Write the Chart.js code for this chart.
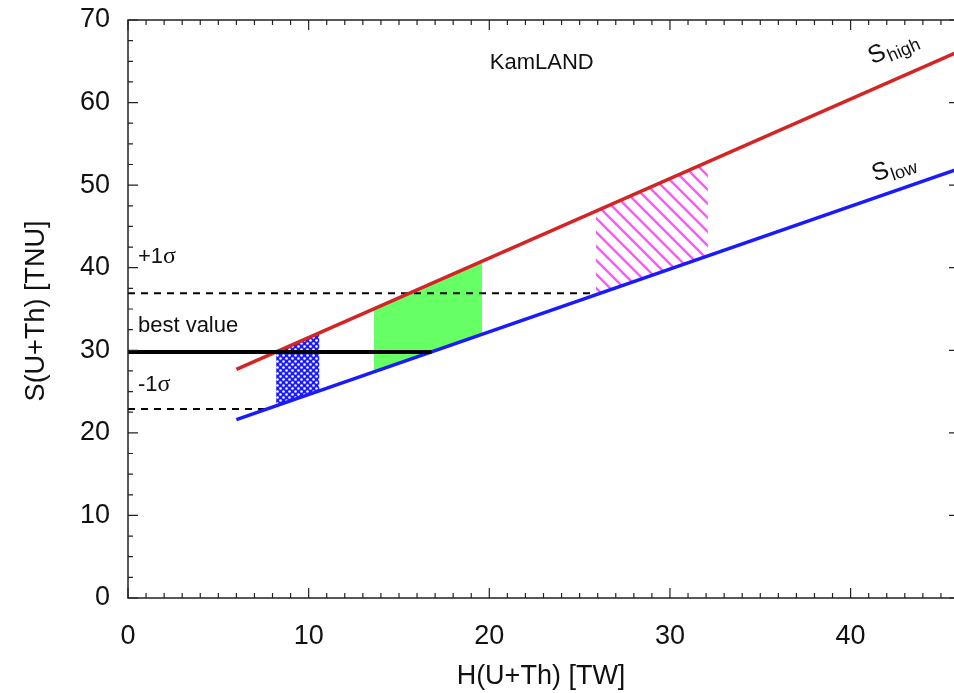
<!DOCTYPE html>
<html>
<head>
<meta charset="utf-8">
<script src="https://cdn.jsdelivr.net/npm/chart.js@4.4.1/dist/chart.umd.min.js"></script>
<style>
  html, body { margin: 0; padding: 0; background: #fff; overflow: hidden; }
  canvas { display: block; }
</style>
</head>
<body>
<canvas id="geoChart" width="959" height="693"></canvas>
<script>
// values
const xTickValues = [0, 10, 20, 30, 40];
const yTickValues = [0, 10, 20, 30, 40, 50, 60, 70];

const sHigh = [[6, 27.7], [46, 66.2]];
const sLow = [[6, 21.6], [46, 52.0]];
const bestValue = [[0, 29.8], [16.8, 29.8]];
const plusSigma = [[0, 36.9], [25.9, 36.9]];
const minusSigma = [[0, 22.9], [7.8, 22.9]];

// shaded regions between the two lines (upper edge, lower edge)
const dotsTop = [[8.2, 29.8], [10.6, 32.1]];
const dotsBottom = [[8.2, 23.3], [10.6, 25.1]];
const greenTop = [[13.6, 35.0], [19.6, 40.8]];
const greenBottom = [[13.6, 27.4], [19.6, 31.9]];
const hatchTop = [[25.9, 46.8], [32.1, 52.8]];
const hatchBottom = [[25.9, 36.7], [32.1, 41.4]];

const RED = '#d42424';
const BLUE = '#1a1aff';

const pts = arr => arr.map(([x, y]) => ({ x: x, y: y }));

function dotPattern() {
    const c = document.createElement('canvas');
    c.width = 6;
    c.height = 6;
    const g = c.getContext('2d');
    g.fillStyle = BLUE;
    g.fillRect(0, 0, 6, 6);
    g.fillStyle = '#fff';
    [[1.5, 1.5], [4.5, 4.5]].forEach(([x, y]) => {
        g.beginPath();
        g.arc(x, y, 1.3, 0, Math.PI * 2);
        g.fill();
    });
    return g.createPattern(c, 'repeat');
}

function hatchPattern() {
    const n = 14;
    const c = document.createElement('canvas');
    c.width = n;
    c.height = n;
    const g = c.getContext('2d');
    g.strokeStyle = '#ff55ff';
    g.lineWidth = 2.4;
    g.beginPath();
    g.moveTo(-2, -2); g.lineTo(n + 2, n + 2);
    g.moveTo(-2, n - 2); g.lineTo(2, n + 2);
    g.moveTo(n - 2, -2); g.lineTo(n + 2, 2);
    g.stroke();
    return g.createPattern(c, 'repeat');
}

function line(data, color, width, dash) {
    return {
        data: pts(data),
        showLine: true,
        borderColor: color,
        borderWidth: width,
        borderDash: dash || [],
        pointRadius: 0,
        fill: false
    };
}

function band(data, fillStyle) {
    return {
        data: pts(data),
        showLine: true,
        borderColor: 'transparent',
        borderWidth: 0,
        pointRadius: 0,
        backgroundColor: fillStyle,
        fill: '+1'
    };
}

// inward ticks on all sides, plus the frame
const framePlugin = {
    id: 'frame',
    afterDraw(chart) {
        const { ctx, chartArea: a, scales: { x, y } } = chart;
        ctx.save();
        ctx.strokeStyle = '#222';
        ctx.lineWidth = 1.5;
        ctx.beginPath();
        ctx.moveTo(a.right, a.top);
        ctx.lineTo(a.left, a.top);
        ctx.lineTo(a.left, a.bottom);
        ctx.lineTo(a.right, a.bottom);
        ctx.lineTo(a.right, a.top);
        ctx.stroke();
        ctx.lineWidth = 1.2;
        ctx.beginPath();
        for (let v = 0; v <= x.max; v += 1) {
            const px = x.getPixelForValue(v);
            const len = v % 10 === 0 ? 10 : 5;
            ctx.moveTo(px, a.bottom); ctx.lineTo(px, a.bottom - len);
            ctx.moveTo(px, a.top); ctx.lineTo(px, a.top + len);
        }
        for (let v = 0; v <= y.max; v += 2.5) {
            const py = y.getPixelForValue(v);
            const len = v % 10 === 0 ? 10 : 5;
            ctx.moveTo(a.left, py); ctx.lineTo(a.left + len, py);
            ctx.moveTo(a.right, py); ctx.lineTo(a.right - len, py);
        }
        ctx.stroke();
        ctx.restore();
    }
};

function sigmaText(ctx, text, x, y) {
    ctx.font = '22px "Liberation Sans"';
    ctx.fillText(text, x, y);
    const w = ctx.measureText(text).width;
    ctx.font = '24px "Liberation Serif"';
    ctx.fillText('\u03c3', x + w, y);
}

function subText(ctx, main, sub, x, y, angle) {
    ctx.save();
    ctx.translate(x, y);
    ctx.rotate(angle);
    ctx.textAlign = 'left';
    ctx.textBaseline = 'alphabetic';
    ctx.font = '25px "Liberation Sans"';
    ctx.fillText(main, 0, 0);
    const w = ctx.measureText(main).width;
    ctx.font = '18px "Liberation Sans"';
    ctx.fillText(sub, w + 1, 5);
    ctx.restore();
}

const textPlugin = {
    id: 'texts',
    afterDraw(chart) {
        const { ctx, scales: { x, y } } = chart;
        ctx.save();
        ctx.fillStyle = '#111';
        ctx.textBaseline = 'middle';

        ctx.textAlign = 'center';
        ctx.font = '22px "Liberation Sans"';
        ctx.fillText('KamLAND', x.getPixelForValue(22.9), y.getPixelForValue(64.8));

        ctx.textAlign = 'left';
        const lx = x.getPixelForValue(0.55);
        sigmaText(ctx, '+1', lx, y.getPixelForValue(41.3));
        ctx.font = '22px "Liberation Sans"';
        ctx.fillText('best value', lx, y.getPixelForValue(32.9));
        sigmaText(ctx, '-1', lx, y.getPixelForValue(25.8));

        const ang = (d) => -Math.atan2(
            y.getPixelForValue(d[0][1]) - y.getPixelForValue(d[1][1]),
            x.getPixelForValue(d[1][0]) - x.getPixelForValue(d[0][0]));
        subText(ctx, 'S', 'high', x.getPixelForValue(41.2), y.getPixelForValue(64.6), ang(sHigh));
        subText(ctx, 'S', 'low', x.getPixelForValue(41.35), y.getPixelForValue(50.4), ang(sLow));

        // axis titles
        ctx.font = '27px "Liberation Sans"';
        ctx.textAlign = 'center';
        ctx.fillText('H(U+Th) [TW]', 541, 677);
        ctx.save();
        ctx.translate(37, 311);
        ctx.rotate(-Math.PI / 2);
        ctx.fillText('S(U+Th) [TNU]', 0, 0);
        ctx.restore();
        ctx.restore();
    }
};

document.addEventListener('DOMContentLoaded', () => {
    const ctx = document.getElementById('geoChart').getContext('2d');
    new Chart(ctx, {
        type: 'scatter',
        data: {
            datasets: [
                line(bestValue, '#000', 4),
                line(sHigh, RED, 3.5),
                line(sLow, BLUE, 3.5),
                line(plusSigma, '#000', 2, [7, 6]),
                line(minusSigma, '#000', 2, [7, 6]),
                band(dotsTop, dotPattern()),
                line(dotsBottom, 'transparent', 0),
                band(greenTop, '#66ff66'),
                line(greenBottom, 'transparent', 0),
                band(hatchTop, hatchPattern()),
                line(hatchBottom, 'transparent', 0)
            ]
        },
        options: {
            responsive: false,
            animation: false,
            layout: { padding: { top: 20, left: 0, right: 0, bottom: 0 } },
            plugins: {
                legend: { display: false },
                tooltip: { enabled: false }
            },
            scales: {
                x: {
                    type: 'linear',
                    min: 0,
                    max: 46,
                    grid: { display: false, drawTicks: false },
                    border: { display: false },
                    afterBuildTicks: (scale) => { scale.ticks = xTickValues.map(v => ({ value: v })); },
                    afterFit: (scale) => {
                        scale.height = 95;
                        scale.paddingLeft = 0;
                        scale.paddingRight = 0;
                    },
                    ticks: {
                        color: '#111',
                        padding: 22,
                        maxRotation: 0,
                        font: { family: 'Liberation Sans', size: 27 }
                    }
                },
                y: {
                    type: 'linear',
                    min: 0,
                    max: 70,
                    grid: { display: false, drawTicks: false },
                    border: { display: false },
                    afterBuildTicks: (scale) => { scale.ticks = yTickValues.map(v => ({ value: v })); },
                    afterFit: (scale) => {
                        scale.width = 128;
                        scale.paddingTop = 0;
                        scale.paddingBottom = 0;
                    },
                    ticks: {
                        color: '#111',
                        padding: 18,
                        font: { family: 'Liberation Sans', size: 27 }
                    }
                }
            }
        },
        plugins: [framePlugin, textPlugin]
    });
});
</script>
</body>
</html>
